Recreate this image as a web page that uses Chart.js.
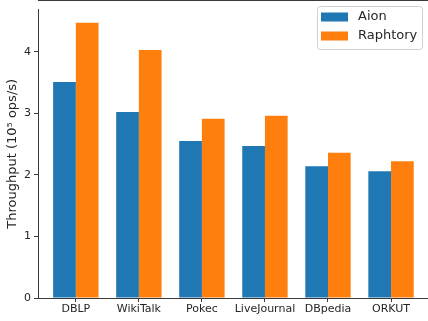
<!DOCTYPE html>
<html>
<head>
<meta charset="utf-8">
<script src="https://cdn.jsdelivr.net/npm/chart.js@4/dist/chart.umd.min.js"></script>
<style>
  html, body { margin: 0; padding: 0; background: #fff; overflow: hidden; }
  #wrap { width: 432px; height: 321px; position: relative; }
</style>
</head>
<body>
<div id="wrap"><canvas id="c" width="432" height="321"></canvas></div>
<script>
const categories = ["DBLP", "WikiTalk", "Pokec", "LiveJournal", "DBpedia", "ORKUT"];
const aionValues = [3.51, 3.02, 2.55, 2.47, 2.14, 2.06];
const raphtoryValues = [4.47, 4.03, 2.91, 2.96, 2.36, 2.22];
const yTickValues = [0, 1, 2, 3, 4];
const seriesNames = ["Aion", "Raphtory"];
const seriesColors = ["#1f77b4", "#ff7f0e"];

const toPoints = arr => arr.map((v, i) => ({ x: i, y: v }));
const textColor = "#262626";
const axisColor = "#3a3a3a";
const FONT = "'DejaVu Sans', sans-serif";

const frameAndLegend = {
  id: "frameAndLegend",
  afterDraw(chart) {
    const { ctx, chartArea: a } = chart;
    ctx.save();
    // top spine
    ctx.strokeStyle = axisColor;
    ctx.lineWidth = 1;
    ctx.beginPath();
    ctx.moveTo(a.left, 0.5);
    ctx.lineTo(a.right, 0.5);
    ctx.stroke();
    // legend
    const bx = 317, by = 6, bw = 105, bh = 43, r = 3;
    ctx.fillStyle = "rgba(255,255,255,0.8)";
    ctx.strokeStyle = "#d0d0d0";
    ctx.beginPath();
    ctx.roundRect(bx + 0.5, by + 0.5, bw, bh, r);
    ctx.fill();
    ctx.stroke();
    ctx.font = "13px " + FONT;
    ctx.textBaseline = "middle";
    ctx.textAlign = "left";
    chart.data.datasets.forEach((ds, i) => {
      const cy = 17 + i * 19;
      ctx.fillStyle = ds.backgroundColor;
      ctx.fillRect(321, cy - 4.5, 27, 9);
      ctx.fillStyle = textColor;
      ctx.fillText(ds.label, 358, cy);
    });
    ctx.restore();
  }
};

new Chart(document.getElementById("c"), {
  type: "bar",
  data: {
    datasets: [
      { label: seriesNames[0], data: toPoints(aionValues), backgroundColor: seriesColors[0], borderWidth: 0 },
      { label: seriesNames[1], data: toPoints(raphtoryValues), backgroundColor: seriesColors[1], borderWidth: 0 }
    ]
  },
  options: {
    responsive: false,
    animation: false,
    events: [],
    layout: { padding: { left: 0, top: 0, right: 1, bottom: 0 } },
    datasets: { bar: { categoryPercentage: 0.72, barPercentage: 1.0 } },
    plugins: { legend: { display: false }, tooltip: { enabled: false } },
    scales: {
      x: {
        type: "linear",
        min: -0.6,
        max: 5.634,
        offset: false,
        afterBuildTicks: s => { s.ticks = categories.map((c, i) => ({ value: i })); },
        afterFit: s => { s.height = 23; },
        grid: { display: true, drawOnChartArea: false, drawTicks: true, tickLength: 4, tickColor: axisColor, offset: false },
        border: { display: true, color: axisColor, width: 1 },
        ticks: {
          autoSkip: false, maxRotation: 0, padding: 1, color: textColor,
          font: { family: FONT, size: 11 },
          callback: v => categories[v]
        }
      },
      y: {
        min: 0,
        max: 4.685,
        afterBuildTicks: s => { s.ticks = yTickValues.map(v => ({ value: v })); },
        afterFit: s => { s.width = 38; },
        grid: { display: true, drawOnChartArea: false, drawTicks: true, tickLength: 4, tickColor: axisColor },
        border: { display: true, color: axisColor, width: 1 },
        ticks: { padding: 3, color: textColor, font: { family: FONT, size: 11 } },
        title: {
          display: true,
          text: "Throughput (10\u2075 ops/s)",
          color: textColor,
          font: { family: FONT, size: 13 },
          padding: { top: 5, bottom: 0 }
        }
      }
    }
  },
  plugins: [frameAndLegend]
});
</script>
</body>
</html>
